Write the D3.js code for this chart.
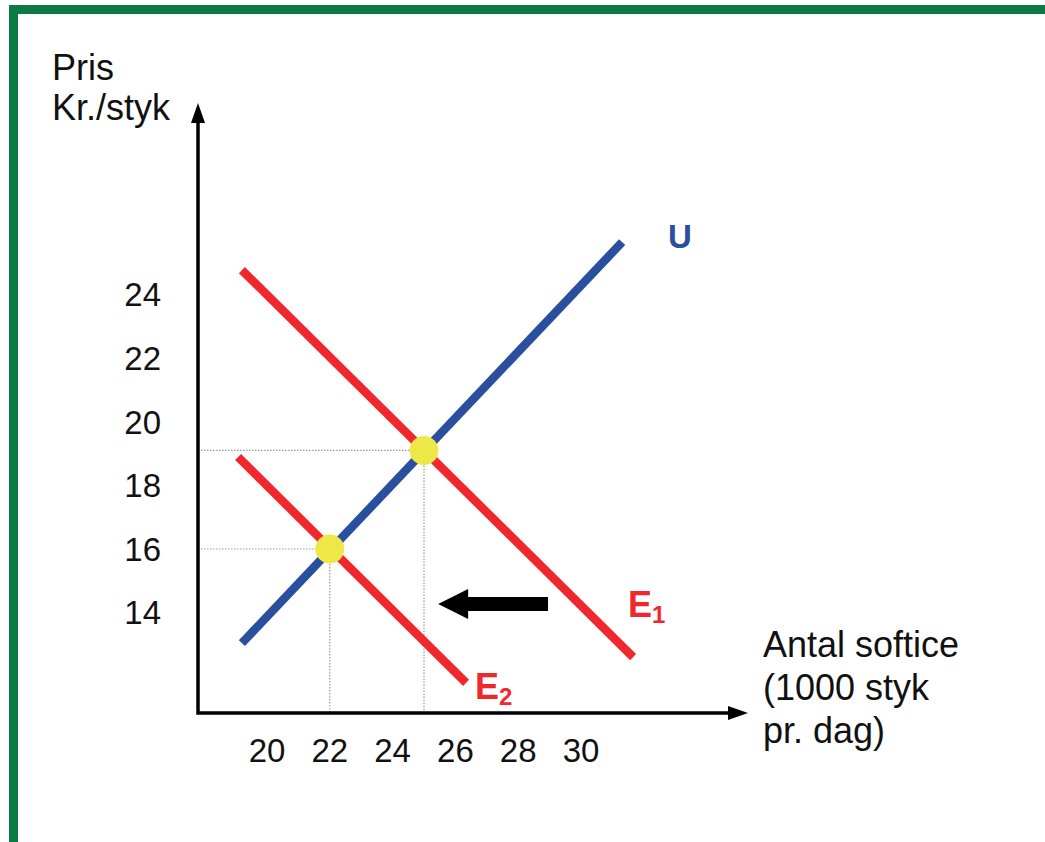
<!DOCTYPE html>
<html>
<head>
<meta charset="utf-8">
<script src="https://cdn.jsdelivr.net/npm/d3@7"></script>
<style>
  html, body { margin: 0; padding: 0; background: #fff; }
  svg { display: block; }
  text { font-family: "Liberation Sans", Arial, sans-serif; }
</style>
</head>
<body>
<svg id="chart" width="1045" height="842"></svg>
<script>
// ---- data ----
const xTicks = [20, 22, 24, 26, 28, 30];
const yTicks = [14, 16, 18, 20, 22, 24];
const supplyU = [[19.2, 13.04], [31.31, 25.65]];
const demandE1 = [[19.2, 24.77], [31.66, 12.6]];
const demandE2 = [[19.08, 18.89], [26.34, 11.79]];
const equilibria = [[25.0, 19.1], [22.0, 16.0]];
const shiftArrow = [[28.95, 14.27], [25.45, 14.27]];
const yAxisTitle = ["Pris", "Kr./styk"];
const xAxisTitle = ["Antal softice", "(1000 styk", "pr. dag)"];

// ---- scales ----
const x = d3.scaleLinear().domain([20, 30]).range([267, 581]);
const y = d3.scaleLinear().domain([16, 24]).range([549, 294.6]);
const xMin = x.invert(198), xMax = x.invert(748);
const yMin = y.invert(713), yMax = y.invert(103);

const svg = d3.select("#chart");

// frame
svg.append("rect").attr("x", 13.5).attr("y", 9.5).attr("width", 1100).attr("height", 840)
  .attr("fill", "none").attr("stroke", "#0b7a45").attr("stroke-width", 9);

const RED = "#f0282e", BLUE = "#2b4f9f", YELLOW = "#ede848";

// guide dotted lines
const guides = svg.append("g");
equilibria.forEach(([qx, py]) => {
  guides.append("line").attr("x1", x(xMin)).attr("x2", x(qx)).attr("y1", y(py)).attr("y2", y(py))
    .attr("stroke", "#999").attr("stroke-width", 1.2).attr("stroke-dasharray", "1.5,1.5");
  guides.append("line").attr("x1", x(qx)).attr("x2", x(qx)).attr("y1", y(py)).attr("y2", y(yMin))
    .attr("stroke", "#999").attr("stroke-width", 1.2).attr("stroke-dasharray", "1.5,1.5");
});

// axes
const axisG = svg.append("g");
axisG.append("path")
  .attr("d", `M${x(xMin)},${y(yMax) + 14} L${x(xMin)},${y(yMin)} L${x(xMax) - 16},${y(yMin)}`)
  .attr("fill", "none").attr("stroke", "#000").attr("stroke-width", 3.5);
// arrowheads
const ax0 = x(xMin), ay0 = y(yMax);
axisG.append("path").attr("d", `M${ax0},${ay0} L${ax0 - 7},${ay0 + 20} L${ax0 + 7},${ay0 + 20} Z`).attr("fill", "#000");
const bx0 = x(xMax), by0 = y(yMin);
axisG.append("path").attr("d", `M${bx0},${by0} L${bx0 - 20},${by0 - 7} L${bx0 - 20},${by0 + 7} Z`).attr("fill", "#000");

// tick labels
svg.append("g").selectAll("text").data(yTicks).join("text")
  .attr("x", 161).attr("y", d => y(d)).attr("dy", "0.36em")
  .attr("text-anchor", "end").attr("font-size", 33).attr("fill", "#111").text(d => d);
svg.append("g").selectAll("text").data(xTicks).join("text")
  .attr("x", d => x(d)).attr("y", 762)
  .attr("text-anchor", "middle").attr("font-size", 33).attr("fill", "#111").text(d => d);

// axis titles
svg.append("g").selectAll("text").data(yAxisTitle).join("text")
  .attr("x", 52).attr("y", (d, i) => 80 + i * 40)
  .attr("font-size", 36).attr("fill", "#111").text(d => d);
svg.append("g").selectAll("text").data(xAxisTitle).join("text")
  .attr("x", 763).attr("y", (d, i) => 657 + i * 43)
  .attr("font-size", 36).attr("fill", "#111").text(d => d);

// curves
const line = d3.line().x(d => x(d[0])).y(d => y(d[1]));
[[demandE1, RED], [demandE2, RED], [supplyU, BLUE]].forEach(([data, c]) => {
  svg.append("path").attr("d", line(data)).attr("fill", "none")
    .attr("stroke", c).attr("stroke-width", 8.5).attr("stroke-linecap", "butt");
});

// equilibrium points
svg.append("g").selectAll("circle").data(equilibria).join("circle")
  .attr("cx", d => x(d[0])).attr("cy", d => y(d[1])).attr("r", 14.5).attr("fill", YELLOW);

// shift arrow
{
  const tx = x(shiftArrow[0][0]), hx = x(shiftArrow[1][0]), ay = y(shiftArrow[0][1]);
  const sh = 7, hw = 15, hl = 30;
  svg.append("path").attr("d",
    `M${tx},${ay - sh} L${hx + hl},${ay - sh} L${hx + hl},${ay - hw} L${hx},${ay} L${hx + hl},${ay + hw} L${hx + hl},${ay + sh} L${tx},${ay + sh} Z`)
    .attr("fill", "#000");
}

// labels
svg.append("text").attr("x", 668).attr("y", 248).attr("font-size", 33).attr("font-weight", "bold")
  .attr("fill", BLUE).text("U");
const lab1 = svg.append("text").attr("x", 628).attr("y", 617).attr("font-size", 36).attr("font-weight", "bold").attr("fill", RED);
lab1.append("tspan").text("E");
lab1.append("tspan").attr("font-size", 24).attr("dy", 6).text("1");
const lab2 = svg.append("text").attr("x", 475).attr("y", 699).attr("font-size", 36).attr("font-weight", "bold").attr("fill", RED);
lab2.append("tspan").text("E");
lab2.append("tspan").attr("font-size", 24).attr("dy", 6).text("2");
</script>
</body>
</html>
